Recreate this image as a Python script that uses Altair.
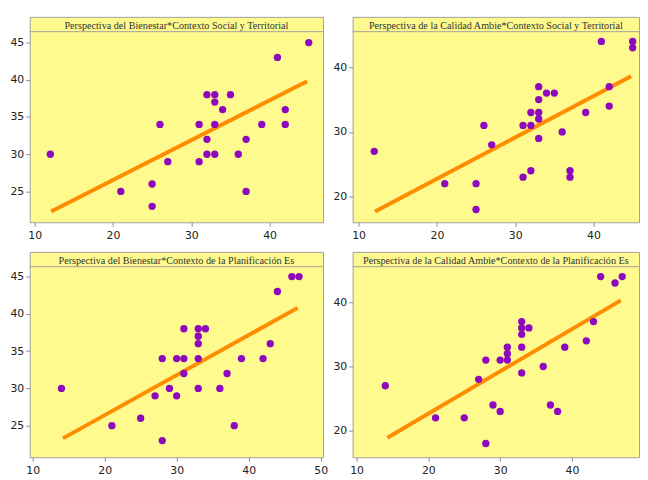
import altair as alt
import pandas as pd

YELLOW = "#FFFA8E"
PURPLE = "#8E08BE"
ORANGE = "#FF8C00"
FRAME = "#A0A0A0"

# Panel 1: Bienestar vs Contexto Social y Territorial
p1_title = "Perspectiva del Bienestar*Contexto Social y Territorial"
p1_x = [12, 21, 25, 25, 26, 27, 31, 31, 32, 32, 32, 33, 33, 33, 33, 34, 35, 36, 37, 37, 39, 41, 42, 42, 45]
p1_y = [30, 25, 26, 23, 34, 29, 34, 29, 38, 32, 30, 38, 37, 34, 30, 36, 38, 30, 32, 25, 34, 43, 36, 34, 45]
p1_fit_x = [12.1, 44.8]
p1_fit_y = [22.3, 39.8]

# Panel 2: Calidad Ambie vs Contexto Social y Territorial
p2_title = "Perspectiva de la Calidad Ambie*Contexto Social y Territorial"
p2_x = [12, 21, 25, 25, 26, 27, 31, 31, 32, 32, 32, 33, 33, 33, 33, 33, 34, 35, 36, 37, 37, 39, 41, 42, 42, 45, 45]
p2_y = [27, 22, 22, 18, 31, 28, 31, 23, 33, 31, 24, 37, 35, 33, 32, 29, 36, 36, 30, 24, 23, 33, 44, 37, 34, 44, 43]
p2_fit_x = [12.1, 44.8]
p2_fit_y = [17.7, 38.6]

# Panel 3: Bienestar vs Contexto de la Planificación Es
p3_title = "Perspectiva del Bienestar*Contexto de la Planificación Es"
p3_x = [14, 21, 25, 27, 28, 28, 29, 30, 30, 31, 31, 31, 33, 33, 33, 33, 33, 34, 36, 37, 38, 39, 42, 43, 44, 46, 47]
p3_y = [30, 25, 26, 29, 34, 23, 30, 34, 29, 38, 34, 32, 38, 37, 36, 34, 30, 38, 30, 32, 25, 34, 34, 36, 43, 45, 45]
p3_fit_x = [14.2, 46.8]
p3_fit_y = [23.3, 40.8]

# Panel 4: Calidad Ambie vs Contexto de la Planificación Es
p4_title = "Perspectiva de la Calidad Ambie*Contexto de la Planificación Es"
p4_x = [14, 21, 25, 27, 28, 28, 29, 30, 30, 31, 31, 31, 33, 33, 33, 33, 33, 34, 36, 37, 38, 39, 42, 43, 44, 46, 47]
p4_y = [27, 22, 22, 28, 31, 18, 24, 31, 23, 33, 32, 31, 37, 36, 35, 33, 29, 36, 30, 24, 23, 33, 34, 37, 44, 43, 44]
p4_fit_x = [14.3, 46.8]
p4_fit_y = [18.9, 40.3]

H = 208


def panel(xs, ys, fx, fy, title, xdom, ydom, xticks, yticks, w):
    pts = pd.DataFrame({"x": xs, "y": ys})
    fit = pd.DataFrame({"x": fx, "y": fy})
    xsc = alt.Scale(domain=xdom, nice=False, zero=False)
    ysc = alt.Scale(domain=ydom, nice=False, zero=False)
    common = dict(title=None, grid=False, domain=False, tickColor="#8a8a8a",
                  tickSize=4, labelFont="DejaVu Sans", labelFontSize=11,
                  labelColor="#222222")
    xax = alt.Axis(values=xticks, labelPadding=3, **common)
    yax = alt.Axis(values=yticks, labelPadding=2, **common)
    line = alt.Chart(fit).mark_line(color=ORANGE, strokeWidth=4).encode(
        x=alt.X("x:Q", scale=xsc, axis=xax),
        y=alt.Y("y:Q", scale=ysc, axis=yax),
    )
    points = alt.Chart(pts).mark_circle(size=55, color=PURPLE, opacity=1).encode(
        x=alt.X("x:Q", scale=xsc),
        y=alt.Y("y:Q", scale=ysc),
    )
    tdf = pd.DataFrame({"t": [title]})
    strip = alt.Chart(tdf).mark_rule(color=FRAME, strokeWidth=1).encode(
        x=alt.value(0), x2=alt.value(w), y=alt.value(15)
    )
    text = alt.Chart(tdf).mark_text(
        font="Liberation Serif", fontSize=10.3, color="#333333", baseline="alphabetic"
    ).encode(x=alt.value(w / 2), y=alt.value(12.5), text="t:N")
    return alt.layer(line, points, strip, text).properties(width=w, height=H)


c1 = panel(p1_x, p1_y, p1_fit_x, p1_fit_y, p1_title, [9.37, 46.82], [20.86, 48.45],
           [10, 20, 30, 40], [25, 30, 35, 40, 45], 297)
c2 = panel(p2_x, p2_y, p2_fit_x, p2_fit_y, p2_title, [9.24, 45.81], [16.03, 47.79],
           [10, 20, 30, 40], [20, 30, 40], 290)
c3 = panel(p3_x, p3_y, p3_fit_x, p3_fit_y, p3_title, [9.59, 50.33], [20.76, 48.31],
           [10, 20, 30, 40, 50], [25, 30, 35, 40, 45], 297)
c4 = panel(p4_x, p4_y, p4_fit_x, p4_fit_y, p4_title, [9.45, 49.34], [15.85, 47.85],
           [10, 20, 30, 40, 50], [20, 30, 40], 290)

chart = alt.concat(
    c1, c2, c3, c4, columns=2, spacing=30, bounds="flush"
).configure_view(
    fill=YELLOW, stroke=FRAME, strokeWidth=1
).properties(
    padding={"left": 1, "top": 5, "right": 0, "bottom": 0}
)

chart.save("out.html", embed_options={"renderer": "svg", "actions": False})
